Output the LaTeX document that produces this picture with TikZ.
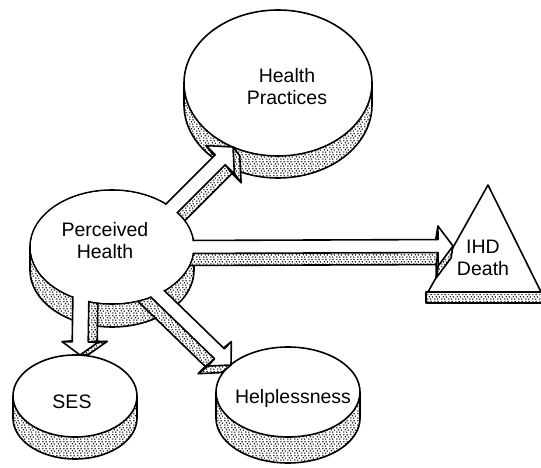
\documentclass[tikz,border=0pt]{standalone}
\usepackage{fontspec}
\usetikzlibrary{shapes.geometric,patterns}
\newfontfamily\labfont{Liberation Sans}
\pgfdeclarepatternformonly{stipdots}{\pgfqpoint{0pt}{0pt}}{\pgfqpoint{7pt}{7pt}}{\pgfqpoint{7pt}{7pt}}{%
 \pgfpathcircle{\pgfqpoint{1.0pt}{1.1pt}}{0.85pt}%
 \pgfpathcircle{\pgfqpoint{4.2pt}{0.95pt}}{0.8pt}%
 \pgfpathcircle{\pgfqpoint{6.0pt}{3.3pt}}{0.85pt}%
 \pgfpathcircle{\pgfqpoint{2.7pt}{3.6pt}}{0.9pt}%
 \pgfpathcircle{\pgfqpoint{1.0pt}{5.9pt}}{0.8pt}%
 \pgfpathcircle{\pgfqpoint{4.6pt}{5.9pt}}{0.9pt}%
 \pgfusepath{fill}}
\tikzset{
 ln/.style={line width=1.6pt, line join=round, line cap=round},
 stipfill/.style={preaction={fill=white}, pattern=stipdots},
 disk/.style={ellipse, draw, line width=1.6pt, fill=white, inner sep=0pt},
 lab/.style={font=\labfont\fontsize{19.5}{22}\selectfont, align=center, inner sep=0pt},
}
% cylinder side band: cx, cy, rx, ry, depth
\newcommand\band[5]{%
 \path[stipfill] (#1+#3,#2) -- plot[domain=0:180,samples=60] ({#1+#3*cos(\x)},{#2+#5+#4*sin(\x)}) -- (#1-#3,#2) -- cycle;
 \draw[ln] (#1+#3,#2) -- plot[domain=0:180,samples=60] ({#1+#3*cos(\x)},{#2+#5+#4*sin(\x)}) -- (#1-#3,#2);}
% point of an arrow in its own frame
\newcommand\Apt[4]{%
 \pgfmathsetmacro\Apx{\Asx+(#2)*\Aux+(#3)*\Anx+(#4)*((\Aet)*\Aux+(\Aes)*\Anx)}%
 \pgfmathsetmacro\Apy{\Asy+(#2)*\Auy+(#3)*\Any+(#4)*((\Aet)*\Auy+(\Aes)*\Any)}%
 \coordinate (#1) at (\Apx pt,\Apy pt);}
% name, start, tip, half shaft, half head, head length, extrusion along, extrusion across
\newcommand\arrowsetup[8]{%
 \path (#2); \pgfgetlastxy{\ASx}{\ASy}%
 \path (#3); \pgfgetlastxy{\ATx}{\ATy}%
 \pgfmathsetmacro\Asx{\ASx}\pgfmathsetmacro\Asy{\ASy}%
 \pgfmathsetmacro\Adx{\ATx-\ASx}\pgfmathsetmacro\Ady{\ATy-\ASy}%
 \pgfmathsetmacro\AL{veclen(\Adx,\Ady)}%
 \pgfmathsetmacro\Aux{\Adx/\AL}\pgfmathsetmacro\Auy{\Ady/\AL}%
 \pgfmathsetmacro\Anx{-\Auy}\pgfmathsetmacro\Any{\Aux}%
 \pgfmathsetmacro\ALh{\AL-(#6)}%
 \def\Aet{#7}\def\Aes{#8}%
 \foreach \q/\c in {v/0,w/1}{%
  \Apt{#1\q1}{0}{#4}{\c}\Apt{#1\q2}{\ALh}{#4}{\c}\Apt{#1\q3}{\ALh}{#5}{\c}%
  \Apt{#1\q4}{\AL}{0}{\c}\Apt{#1\q5}{\ALh}{-#5}{\c}\Apt{#1\q6}{\ALh}{-#4}{\c}%
  \Apt{#1\q7}{0}{-#4}{\c}}%
}
\newcommand\Asides[2]{\foreach \i/\j in {#2}{%
 \path[stipfill] (#1v\i) -- (#1v\j) -- (#1w\j) -- (#1w\i) -- cycle;
 \draw[ln] (#1v\i) -- (#1w\i) -- (#1w\j) -- (#1v\j);}}
\newcommand\Aface[1]{%
 \fill[white] (#1v1)--(#1v2)--(#1v3)--(#1v4)--(#1v5)--(#1v6)--(#1v7)--cycle;
 \draw[ln] (#1v1)--(#1v2)--(#1v3)--(#1v4)--(#1v5)--(#1v6)--(#1v7);}
\begin{document}
\begin{tikzpicture}[x=1pt,y=-1pt]
\useasboundingbox (0,0) rectangle (541,468);
% targets
\band{278}{83}{94}{73}{22}
\node[disk, minimum width=188pt, minimum height=146pt] (hp) at (278,83) {};
\band{75}{396}{62}{41}{22}
\node[disk, minimum width=124pt, minimum height=82pt] (ses) at (75,396) {};
\band{288}{392}{72}{45}{26}
\node[disk, minimum width=144pt, minimum height=90pt] (hl) at (288,392) {};
\path[stipfill] (426,292) rectangle (545,303);
\draw[ln] (426,292) rectangle (545,303);
\draw[ln, fill=white] (488,185) -- (428,292) -- (541,292) -- cycle;
% perceived health band
\band{112}{247}{82}{57}{23}
% arrow ends
\coordinate (sIHD) at (180,247); \coordinate (tIHD) at (453,246);
\coordinate (sHP) at (163,217);  \coordinate (tHP) at (233,147);
\coordinate (sHL) at (149,285.5); \coordinate (tHL) at (231,365);
\coordinate (sSES) at (81,290);  \coordinate (tSES) at (80,355);
\arrowsetup{ihd}{sIHD}{tIHD}{6.5}{20}{15}{-2}{-12}
\arrowsetup{hpa}{sHP}{tHP}{7}{20}{18}{-1.5}{-11}
\arrowsetup{hla}{sHL}{tHL}{7}{17}{16}{-1.5}{-12}
\arrowsetup{sesa}{sSES}{tSES}{8}{18}{13}{-1}{9}
\Asides{ihd}{2/3,4/5,5/6,6/7}
\Asides{hpa}{2/3,4/5,5/6,6/7}
\Asides{hla}{2/3,4/5,5/6,6/7}
\Asides{sesa}{1/2,2/3,3/4,5/6}
% perceived health top
\node[disk, minimum width=164pt, minimum height=114pt] (ph) at (112,247) {};
\Aface{ihd}
\Aface{hpa}
\Aface{hla}
\Aface{sesa}
\fill[white] (ph.center) ellipse [x radius=81, y radius=56];
% labels
\node[lab] (tph) at (105,241) {Perceived\\Health};
\node[lab] (thp) at (287,87) {Health\\Practices};
\node[lab] (tses) at (72,402) {SES};
\node[lab] (thl) at (293,398) {Helplessness};
\node[lab] (tihd) at (483,258) {IHD\\Death};
\end{tikzpicture}
\end{document}
